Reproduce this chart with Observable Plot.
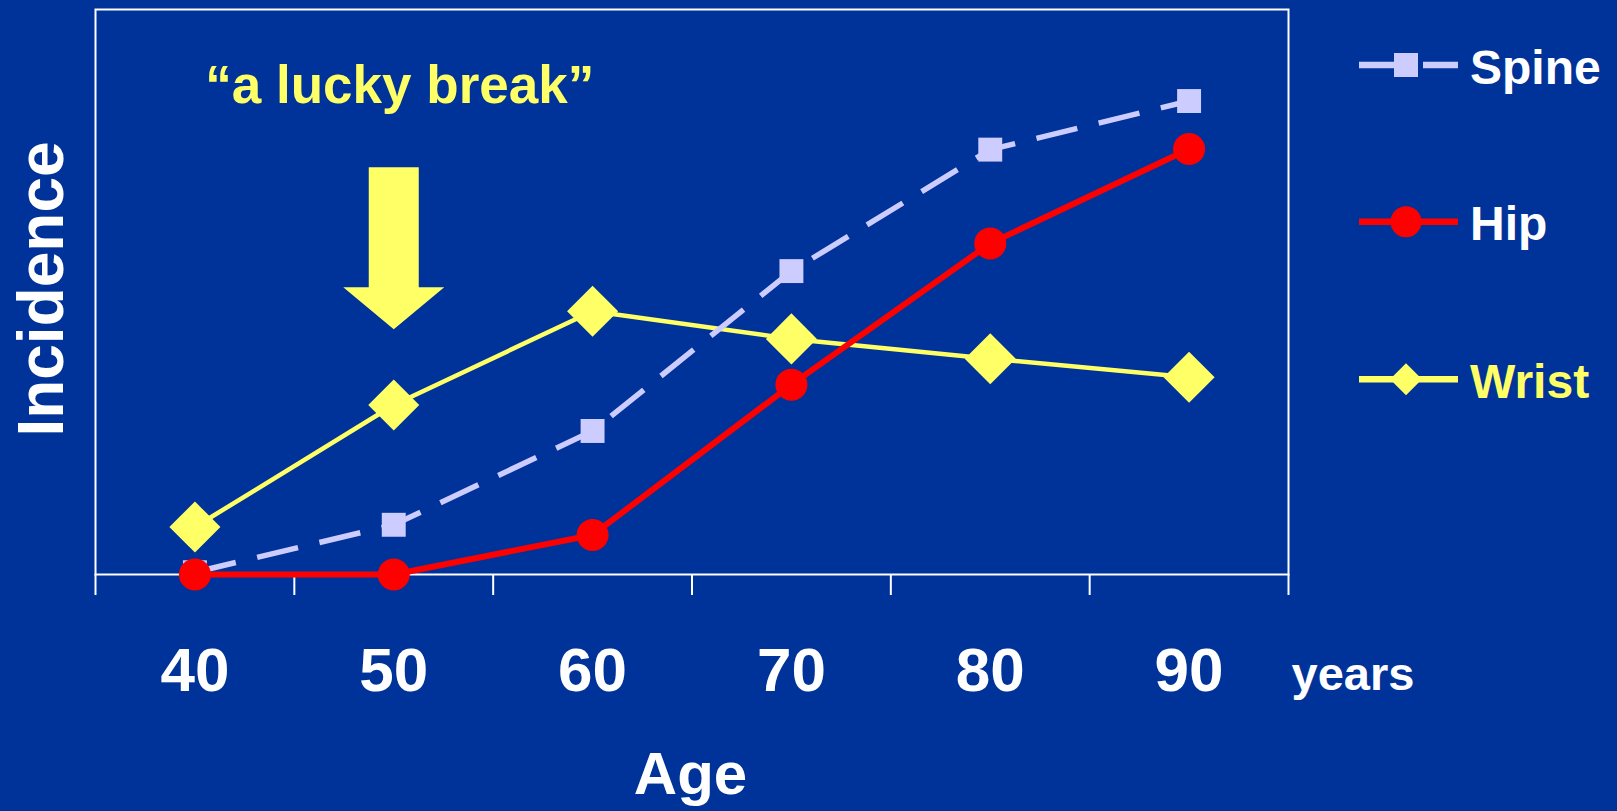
<!DOCTYPE html>
<html>
<head>
<meta charset="utf-8">
<script src="https://cdn.jsdelivr.net/npm/d3@7"></script>
<script src="https://cdn.jsdelivr.net/npm/@observablehq/plot@0.6"></script>
<style>
  html, body { margin: 0; padding: 0; background: #003399; }
  #chart { width: 1617px; height: 811px; overflow: hidden; }
  #chart svg { display: block; overflow: visible; }
</style>
</head>
<body>
<div id="chart"></div>
<script>
// Fracture incidence by age, for three fracture sites
const ages = [40, 50, 60, 70, 80, 90];
const spine = [0.4, 8.8, 25.4, 53.7, 75.2, 83.8];
const hip = [0, 0, 7.0, 33.6, 58.6, 75.3];
const wrist = [8.4, 30.0, 46.6, 41.7, 38.2, 34.9];

// boundaries between the age bands (tick marks under the axis)
const bandEdges = [35, 45, 55, 65, 75, 85, 95];

const seriesNames = ["Spine", "Hip", "Wrist"];
const seriesColors = ["#CCCCFF", "#FF0000", "#FFFF66"];
const labelColors = ["#FFFFFF", "#FFFFFF", "#FFFF66"];

// the "lucky break" arrow points down at age 50
const arrowAge = 50;
const arrowTip = 43.4;

const FONT = "'Liberation Sans', Arial, Helvetica, sans-serif";
const rows = (vals) => ages.map((age, i) => ({age, value: vals[i]}));

// solid block arrow, drawn pointing up from (0,0) to (0,-l)
const blockArrow = {
  draw(context, l) {
    const shaft = 25, head = 50.5, headLen = 42;
    context.moveTo(-shaft, 0);
    context.lineTo(-shaft, -l + headLen);
    context.lineTo(-head, -l + headLen);
    context.lineTo(0, -l);
    context.lineTo(head, -l + headLen);
    context.lineTo(shaft, -l + headLen);
    context.lineTo(shaft, 0);
    context.closePath();
  }
};

const plot = Plot.plot({
  width: 1617,
  height: 811,
  marginLeft: 95,
  marginRight: 329,
  marginTop: 9,
  marginBottom: 237,
  style: {background: "transparent", color: "white", fontFamily: FONT, overflow: "visible"},
  x: {type: "linear", domain: [35, 95], axis: null},
  y: {type: "linear", domain: [0, 100], axis: null},
  marks: [
    Plot.frame({stroke: "white", strokeWidth: 2}),
    Plot.axisX({ticks: bandEdges, tickSize: 21, tickFormat: () => "", stroke: "white", strokeWidth: 2, label: null}),

    // wrist
    Plot.line(rows(wrist), {x: "age", y: "value", stroke: seriesColors[2], strokeWidth: 4.5, strokeLinecap: "butt"}),
    Plot.dot(rows(wrist), {x: "age", y: "value", symbol: "diamond2", r: 23, fill: seriesColors[2], stroke: "none"}),

    // spine
    Plot.line(rows(spine), {x: "age", y: "value", stroke: seriesColors[0], strokeWidth: 5.5, strokeDasharray: "42,22", strokeLinecap: "butt"}),
    Plot.dot(rows(spine), {x: "age", y: "value", symbol: "square", r: 13.5, fill: seriesColors[0], stroke: "none"}),

    // hip
    Plot.line(rows(hip), {x: "age", y: "value", stroke: seriesColors[1], strokeWidth: 6, strokeLinecap: "butt"}),
    Plot.dot(rows(hip), {x: "age", y: "value", symbol: "circle", r: 16, fill: seriesColors[1], stroke: "none"}),

    // annotation
    Plot.vector([{age: arrowAge, value: arrowTip}], {
      x: "age", y: "value", length: 162, rotate: 180, anchor: "end",
      shape: blockArrow, fill: "#FFFF66", stroke: "none"
    }),
    Plot.text(["\u201Ca lucky break\u201D"], {
      x: () => arrowAge, frameAnchor: "top", dx: 6, dy: 93, lineAnchor: "bottom",
      fill: "#FFFF66", fontSize: 53, fontWeight: "bold"
    }),

    // axis labels
    Plot.text(ages, {
      x: (d) => d, frameAnchor: "bottom", dy: 116, lineAnchor: "bottom",
      text: (d) => String(d), fill: "white", fontSize: 62, fontWeight: "bold"
    }),
    Plot.text(["years"], {
      frameAnchor: "bottom-right", textAnchor: "start", dx: 3, dy: 115.5, lineAnchor: "bottom",
      fill: "white", fontSize: 47, fontWeight: "bold"
    }),
    Plot.text(["Age"], {
      frameAnchor: "bottom", dx: -1.5, dy: 219, lineAnchor: "bottom",
      fill: "white", fontSize: 60, fontWeight: "bold"
    }),
    Plot.text(["Incidence"], {
      frameAnchor: "left", textAnchor: "middle", dx: -53, dy: -3, rotate: -90,
      fill: "white", fontSize: 64, fontWeight: "bold"
    })
  ]
});

// legend at the right of the plot
const svg = d3.select(plot);
const legend = svg.append("g").attr("font-family", FONT).attr("text-anchor", "start");
const legendSymbols = [
  d3.symbol(d3.symbolSquare, 576),
  d3.symbol(d3.symbolCircle, 755),
  d3.symbol(d3.symbolDiamond2, 653)
];
const legendRows = [65, 221.7, 379.3];
seriesNames.forEach((name, i) => {
  const y = legendRows[i];
  const g = legend.append("g");
  g.append("line")
    .attr("x1", 1359).attr("x2", 1458).attr("y1", y).attr("y2", y)
    .attr("stroke", seriesColors[i]).attr("stroke-width", 6.5)
    .attr("stroke-dasharray", i === 0 ? "42,22" : null);
  g.append("path")
    .attr("d", legendSymbols[i]())
    .attr("transform", `translate(1406,${y})`)
    .attr("fill", seriesColors[i]);
  g.append("text")
    .attr("x", 1470).attr("y", y + 18.5)
    .attr("text-anchor", "start")
    .attr("fill", labelColors[i])
    .attr("font-size", 48).attr("font-weight", "bold")
    .text(name);
});

document.getElementById("chart").append(plot);
</script>
</body>
</html>
